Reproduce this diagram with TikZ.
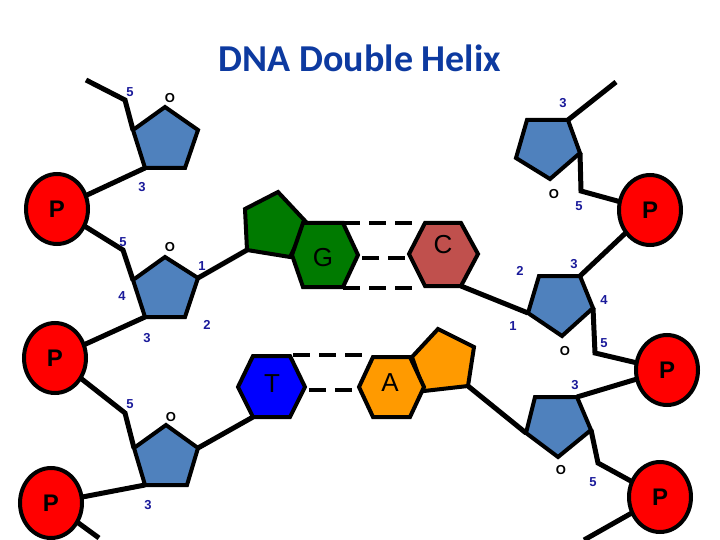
\documentclass[tikz,border=0pt]{standalone}
\usepackage{fontspec}
\usetikzlibrary{shapes.geometric}
\setmainfont{Liberation Sans}
\newfontfamily\titlefont{Carlito}
\definecolor{sugar}{HTML}{4F81BD}
\definecolor{gre}{HTML}{007A00}
\definecolor{cbase}{HTML}{C0504D}
\definecolor{abase}{HTML}{FF9A00}
\definecolor{lab}{HTML}{1A1A9A}
\definecolor{ttl}{HTML}{0D3AA0}
\begin{document}
\begin{tikzpicture}[x=1pt,y=-1pt,line join=miter,
  bond/.style={line width=5pt},
  shp/.style={draw=black,line width=4pt},
  sug/.style={shp,fill=sugar},
  phos/.style={shp,fill=red,ellipse,minimum width=62pt,minimum height=70pt,inner sep=0pt,font=\bfseries\fontsize{24}{24}\selectfont},
  num/.style={text=lab,font=\bfseries\fontsize{13}{13}\selectfont,inner sep=0pt},
  oxy/.style={font=\bfseries\fontsize{13}{13}\selectfont,inner sep=0pt},
  basel/.style={font=\fontsize{26}{26}\selectfont,inner sep=0pt},
  hb/.style={line width=4.5pt,dash pattern=on 17pt off 9pt}]
\useasboundingbox (0,0) rectangle (720,540);
\node[text=ttl,font=\titlefont\bfseries\fontsize{38}{38}\selectfont] (title) at (360,58) {DNA Double Helix};
% bonds (behind)
\draw[bond] (86,80) -- (125,100) -- (133,130);
\draw[bond] (145,168) -- (57,209);
\draw[bond] (57,209) -- (123,250) -- (133,280);
\draw[bond] (145,317) -- (55,358);
\draw[bond] (198,278) -- (247,250);
\draw[bond] (55,358) -- (125,413) -- (134,448);
\draw[bond] (145,485) -- (51,503);
\draw[bond] (51,503) -- (99,538);
\draw[bond] (198,448) -- (253,417);
\draw[bond] (568,120) -- (616,82);
\draw[bond] (580,153) -- (581,191) -- (650,210);
\draw[bond] (650,210) -- (580,276);
\draw[bond] (461,286) -- (528,313);
\draw[bond] (593,308) -- (595,353) -- (667,370);
\draw[bond] (667,370) -- (577,397);
\draw[bond] (468,386) -- (526,433);
\draw[bond] (591,430) -- (598,463) -- (660,497);
\draw[bond] (660,497) -- (584,540);
% H-bonds
\draw[hb] (343,223) -- (415,223);
\draw[hb] (362,258) -- (411,258);
\draw[hb] (343,288) -- (415,288);
\draw[hb] (293,355) -- (365,355);
\draw[hb] (309,390) -- (359,390);
% sugars
\draw[sug] (165,107) -- (198,130) -- (185,168) -- (145,168) -- (133,130) -- cycle;
\draw[sug] (165,257) -- (198,278) -- (185,317) -- (145,317) -- (133,280) -- cycle;
\draw[sug] (166,425) -- (198,448) -- (187,485) -- (145,485) -- (134,448) -- cycle;
\draw[sug] (527,120) -- (568,120) -- (580,153) -- (550,179) -- (516,158) -- cycle;
\draw[sug] (539,276) -- (580,276) -- (593,308) -- (562,336) -- (528,313) -- cycle;
\draw[sug] (535,397) -- (577,397) -- (591,430) -- (558,457) -- (526,433) -- cycle;
% bases
\draw[shp,fill=gre] (245,209) -- (278,192) -- (307,223) -- (290,257) -- (247,250) -- cycle;
\draw[shp,fill=gre] (292,255) -- (303,223) -- (343,223) -- (358,255) -- (343,287) -- (303,287) -- cycle;
\draw[shp,fill=cbase] (409,254) -- (425,223) -- (461,223) -- (478,254) -- (461,286) -- (425,286) -- cycle;
\draw[shp,fill=blue] (238,387) -- (253,356) -- (290,356) -- (305,387) -- (290,417) -- (253,417) -- cycle;
\draw[shp,fill=abase] (412,357) -- (438,329) -- (474,347) -- (468,386) -- (424,391) -- cycle;
\draw[shp,fill=abase] (359,387) -- (373,357) -- (410,357) -- (424,387) -- (410,417) -- (373,417) -- cycle;
\node[basel] (G) at (323,258) {G};
\node[basel] (C) at (443,245) {C};
\node[basel] (T) at (272,384) {T};
\node[basel] (A) at (390,383) {A};
% phosphates
\node[phos] (p1) at (57,209) {P};
\node[phos] (p2) at (55,358) {P};
\node[phos] (p3) at (51,503) {P};
\node[phos] (p4) at (650,210) {P};
\node[phos] (p5) at (667,370) {P};
\node[phos] (p6) at (660,497) {P};
% labels
\node[num] (n1) at (130,92) {5};
\node[oxy] (o1) at (170,98) {O};
\node[num] (n2) at (142,187) {3};
\node[num] (n3) at (123,242) {5};
\node[oxy] (o2) at (170,247) {O};
\node[num] (n4) at (202,266) {1};
\node[num] (n5) at (122,296) {4};
\node[num] (n6) at (147,338) {3};
\node[num] (n7) at (207,325) {2};
\node[num] (n8) at (130,404) {5};
\node[oxy] (o3) at (171,417) {O};
\node[num] (n9) at (148,505) {3};
\node[num] (n10) at (563,103) {3};
\node[oxy] (o4) at (554,194) {O};
\node[num] (n11) at (579,206) {5};
\node[num] (n12) at (520,271) {2};
\node[num] (n13) at (574,264) {3};
\node[num] (n14) at (604,300) {4};
\node[num] (n15) at (513,326) {1};
\node[oxy] (o5) at (565,351) {O};
\node[num] (n16) at (604,343) {5};
\node[num] (n17) at (575,385) {3};
\node[oxy] (o6) at (561,470) {O};
\node[num] (n18) at (593,482) {5};
\end{tikzpicture}
\end{document}
